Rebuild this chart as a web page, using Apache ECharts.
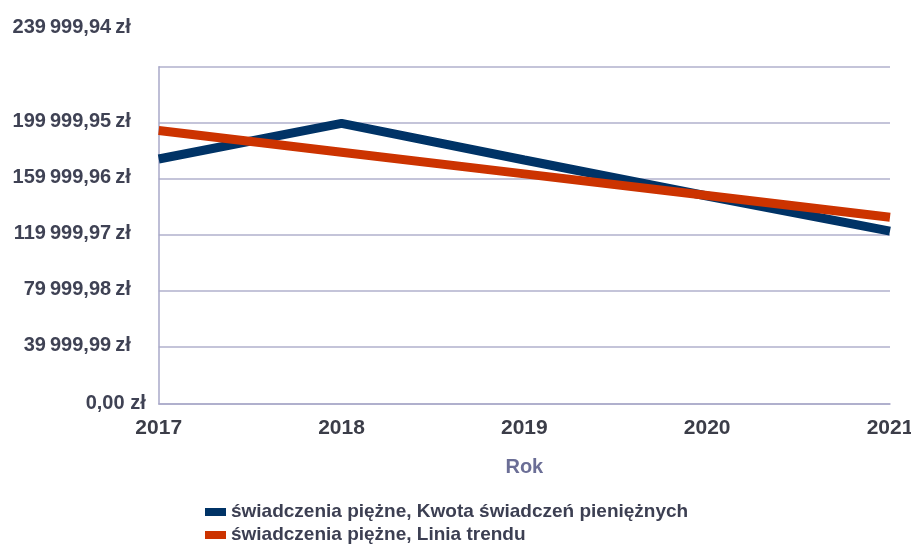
<!DOCTYPE html>
<html>
<head>
<meta charset="utf-8">
<script src="https://cdn.jsdelivr.net/npm/echarts@6/dist/echarts.min.js"></script>
<style>
html,body{margin:0;padding:0;background:#fff;}
#chart{width:911px;height:546px;}
</style>
</head>
<body>
<div id="chart"></div>
<script>
var years = ['2017', '2018', '2019', '2020', '2021'];
var kwota = [174200, 199600, 173500, 147800, 122800];
var trend = [194500, 179040, 163580, 148120, 132660];
var yMin = 0;
var yMax = 239999.94;
var yStep = 39999.99;
var seriesNames = ['świadczenia piężne, Kwota świadczeń pieniężnych', 'świadczenia piężne, Linia trendu'];
var axisName = 'Rok';

function fmt(v) {
  var s = v.toFixed(2).split('.');
  var intPart = s[0].replace(/\B(?=(\d{3})+(?!\d))/g, '\u2009');
  return intPart + ',' + s[1];
}

var chart = echarts.init(document.getElementById('chart'));
chart.setOption({
  animation: false,
  grid: {left: 158.7, right: 21, top: 66.7, bottom: 142.7, containLabel: false, outerBoundsMode: 'none'},
  legend: {
    orient: 'vertical', left: 205, top: 502, itemGap: 3, padding: 0,
    icon: 'rect', itemWidth: 21, itemHeight: 8,
    textStyle: {fontFamily: 'Liberation Sans', fontWeight: 'bold', fontSize: 19, lineHeight: 20, color: '#3c3f52'},
    data: seriesNames
  },
  xAxis: {
    type: 'category', data: years, boundaryGap: false,
    name: axisName, nameLocation: 'middle', nameGap: 54,
    nameTextStyle: {fontFamily: 'Liberation Sans', fontWeight: 'bold', fontSize: 20, color: '#6b6e96'},
    axisLine: {show: true, lineStyle: {color: '#a9a9c9', width: 1.5}},
    axisTick: {show: false},
    axisLabel: {fontFamily: 'Liberation Sans', fontWeight: 'bold', fontSize: 21, color: '#3b3d48', margin: 14, showMinLabel: true, showMaxLabel: true},
    splitLine: {show: false}
  },
  yAxis: {
    type: 'value', min: yMin, max: yMax, interval: yStep,
    axisLine: {show: true, lineStyle: {color: '#a9a9c9', width: 1.5}},
    axisTick: {show: false},
    splitLine: {show: true, lineStyle: {color: '#b0b0cc', width: 1.5}},
    axisLabel: {
      margin: 13,
      formatter: function (v) {
        if (v === 0) return '{z|0,00 zł}';
        if (Math.abs(v - yMax) < 0.01) return '{t|' + fmt(v) + '\u2009zł}';
        return '{n|' + fmt(v) + '\u2009zł}';
      },
      rich: {
        z: {fontFamily: 'Liberation Sans', fontWeight: 'bold', fontSize: 20, color: '#3f4254'},
        n: {fontFamily: 'Liberation Sans', fontWeight: 'bold', fontSize: 20, color: '#3f4254', padding: [0, 15, 3, 0]},
        t: {fontFamily: 'Liberation Sans', fontWeight: 'bold', fontSize: 20, color: '#3f4254', padding: [0, 15, 78, 0]}
      }
    }
  },
  series: [
    {name: seriesNames[0], type: 'line', data: kwota, symbol: 'none', lineStyle: {color: '#003366', width: 9}, itemStyle: {color: '#003366'}, z: 2},
    {name: seriesNames[1], type: 'line', data: trend, symbol: 'none', lineStyle: {color: '#cc3300', width: 9}, itemStyle: {color: '#cc3300'}, z: 3}
  ]
});
</script>
</body>
</html>
